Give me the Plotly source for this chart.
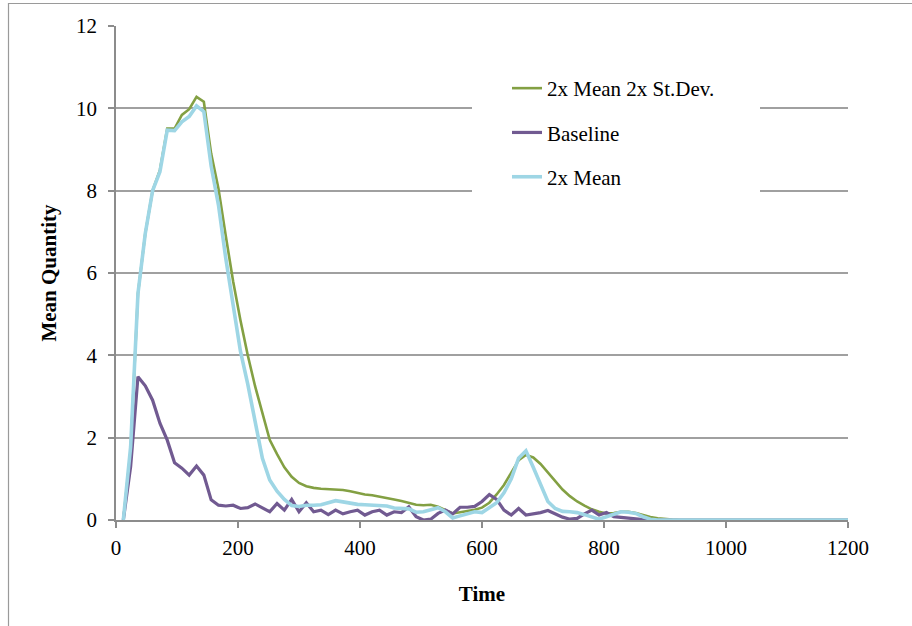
import plotly.graph_objects as go

time = [12, 24, 36, 48, 60, 72, 84, 96, 108, 120,
        132, 144, 156, 168, 180, 192, 204, 216, 228, 240,
        252, 264, 276, 288, 300, 312, 324, 336, 348, 360,
        372, 384, 396, 408, 420, 432, 444, 456, 468, 480,
        492, 504, 516, 528, 540, 552, 564, 576, 588, 600,
        612, 624, 636, 648, 660, 672, 684, 696, 708, 720,
        732, 744, 756, 768, 780, 792, 804, 816, 828, 840,
        852, 864, 876, 888, 900, 912, 924, 936, 948, 960,
        972, 984, 996, 1008, 1020, 1032, 1044, 1056, 1068, 1080,
        1092, 1104, 1116, 1128, 1140, 1152, 1164, 1176, 1188, 1200]

mean2x_sd2x = [0, 1.7, 5.5, 6.96, 8.0, 8.5, 9.51, 9.51, 9.84, 9.98,
               10.28, 10.16, 8.9, 8.05, 6.9, 5.8, 4.85, 4.0, 3.25, 2.6,
               1.95, 1.6, 1.28, 1.05, 0.9, 0.82, 0.78, 0.76, 0.75, 0.75,
               0.73, 0.7, 0.66, 0.62, 0.6, 0.57, 0.54, 0.5, 0.46, 0.42,
               0.37, 0.36, 0.37, 0.32, 0.24, 0.16, 0.19, 0.22, 0.25, 0.3,
               0.42, 0.62, 0.85, 1.15, 1.45, 1.58, 1.52, 1.36, 1.15, 0.93,
               0.74, 0.58, 0.45, 0.35, 0.26, 0.2, 0.16, 0.17, 0.2, 0.2,
               0.17, 0.12, 0.07, 0.04, 0.02, 0.01, 0, 0, 0, 0,
               0, 0, 0, 0, 0, 0, 0, 0, 0, 0,
               0, 0, 0, 0, 0, 0, 0, 0, 0, 0]

baseline = [0, 1.3, 3.48, 3.26, 2.91, 2.35, 1.94, 1.39, 1.26, 1.09,
            1.31, 1.09, 0.49, 0.36, 0.34, 0.36, 0.28, 0.3, 0.39, 0.3,
            0.2, 0.4, 0.24, 0.5, 0.2, 0.42, 0.2, 0.24, 0.13, 0.24,
            0.15, 0.2, 0.24, 0.12, 0.2, 0.24, 0.12, 0.2, 0.18, 0.32,
            0.08, 0.0, 0.02, 0.16, 0.24, 0.15, 0.31, 0.31, 0.33, 0.45,
            0.62, 0.5, 0.24, 0.12, 0.28, 0.12, 0.15, 0.18, 0.23, 0.15,
            0.07, 0.02, 0.04, 0.15, 0.24, 0.12, 0.18, 0.08, 0.06, 0.04,
            0.02, 0.01, 0, 0, 0, 0, 0, 0, 0, 0,
            0, 0, 0, 0, 0, 0, 0, 0, 0, 0,
            0, 0, 0, 0, 0, 0, 0, 0, 0, 0]

mean2x = [0, 1.78, 5.5, 6.96, 8.0, 8.46, 9.47, 9.46, 9.67, 9.8,
          10.06, 9.92, 8.6, 7.65, 6.35, 5.2, 4.1, 3.3, 2.45, 1.5,
          0.97, 0.7, 0.5, 0.35, 0.33, 0.36, 0.36, 0.37, 0.42, 0.47,
          0.44, 0.4, 0.38, 0.37, 0.36, 0.35, 0.34, 0.29, 0.28, 0.27,
          0.19, 0.2, 0.25, 0.3, 0.2, 0.05, 0.1, 0.16, 0.2, 0.18,
          0.3, 0.42, 0.66, 1.0, 1.5, 1.68, 1.28, 0.85, 0.45, 0.28,
          0.21, 0.2, 0.18, 0.13, 0.08, 0.02, 0.08, 0.15, 0.2, 0.19,
          0.16, 0.08, 0.02, 0, 0, 0, 0, 0, 0, 0,
          0, 0, 0, 0, 0, 0, 0, 0, 0, 0,
          0, 0, 0, 0, 0, 0, 0, 0, 0, 0]

series_names = ["2x Mean 2x St.Dev.", "Baseline", "2x Mean"]
colors = ["#83A043", "#715A91", "#9ED6E5"]
widths = [2.6, 3.2, 3.6]

FONT = "Liberation Serif, Times New Roman, serif"
FS = 21

fig = go.Figure()
for i, (name, ys) in enumerate(zip(series_names, [mean2x_sd2x, baseline, mean2x])):
    fig.add_trace(go.Scatter(
        x=time, y=ys, mode="lines", name=name,
        legendgroup=f"g{i}",
        line=dict(color=colors[i], width=widths[i]),
    ))

W, H = 912, 626
L, R, T, B = 116, 64, 26, 106
pw, ph = W - L - R, H - T - B

def px_x(p):
    return (p - L) / pw

def px_y(p):
    return (H - B - p) / ph

fig.update_layout(
    width=W, height=H,
    margin=dict(l=L, r=R, t=T, b=B),
    paper_bgcolor="white", plot_bgcolor="white",
    font=dict(family=FONT, size=FS, color="black"),
    showlegend=True,
    legend=dict(
        x=px_x(507), y=px_y(68), xanchor="left", yanchor="top",
        bgcolor="rgba(0,0,0,0)", borderwidth=0,
        font=dict(family=FONT, size=FS, color="black"),
        traceorder="grouped", tracegroupgap=14,
    ),
    xaxis=dict(
        range=[0, 1200], tickvals=[0, 200, 400, 600, 800, 1000, 1200],
        showgrid=False, zeroline=False,
        showline=True, linecolor="#8c8c8c", linewidth=1.5,
        ticks="outside", ticklen=6, tickcolor="#8c8c8c", tickwidth=1.5,
        ticklabelstandoff=2,
        tickfont=dict(family=FONT, size=FS),
        title=dict(text="<b>Time</b>", font=dict(family=FONT, size=FS), standoff=27),
    ),
    yaxis=dict(
        range=[0, 12], tickvals=[0, 2, 4, 6, 8, 10, 12],
        showgrid=True, gridcolor="#a0a0a0", gridwidth=1.5,
        zeroline=False,
        showline=True, linecolor="#8c8c8c", linewidth=1.5,
        ticks="outside", ticklen=6, tickcolor="#8c8c8c", tickwidth=1.5,
        ticklabelstandoff=7,
        tickfont=dict(family=FONT, size=FS),
        title=dict(text="<b>Mean Quantity</b>", font=dict(family=FONT, size=FS), standoff=14),
    ),
    shapes=[
        # white box behind legend hides gridlines (no traces pass there)
        dict(type="rect", xref="paper", yref="paper",
             x0=px_x(472), x1=px_x(760), y0=px_y(215), y1=px_y(55),
             fillcolor="white", line=dict(width=0), layer="above"),
        # outer chart frame
        dict(type="rect", xref="paper", yref="paper",
             x0=px_x(8.5), x1=px_x(930), y0=px_y(650), y1=px_y(3.5),
             fillcolor="rgba(0,0,0,0)", line=dict(color="#9a9a9a", width=1.2),
             layer="above"),
    ],
)

fig.write_html("out.html", config={"displayModeBar": False},
               post_script="document.body.style.margin='0';")
